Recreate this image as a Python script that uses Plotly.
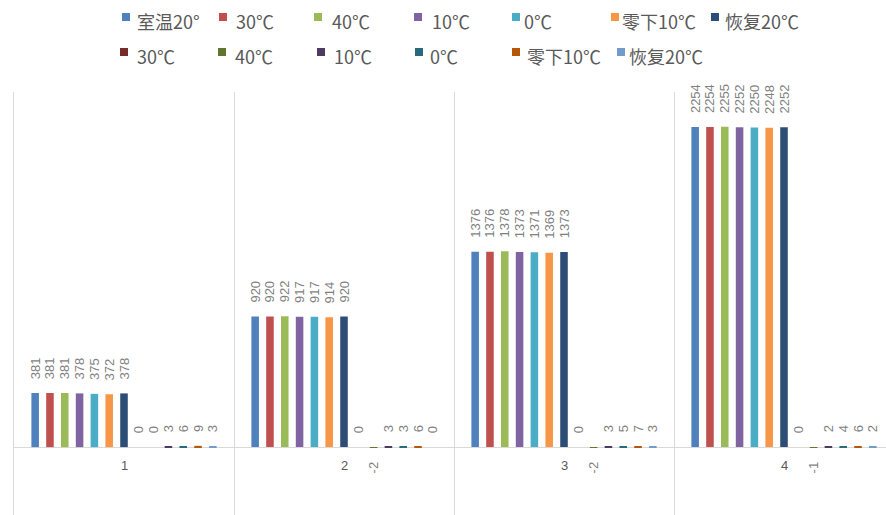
import plotly.graph_objects as go

# Four test samples (categories on the x axis)
categories = [1, 2, 3, 4]
category_labels = ["1", "2", "3", "4"]

# Readings at each temperature condition
names_main = ["室温20°", "30℃", "40℃", "10℃", "0℃", "零下10℃", "恢复20℃"]
room_20 = [381, 920, 1376, 2254]
temp_30 = [381, 920, 1376, 2254]
temp_40 = [381, 922, 1378, 2255]
temp_10 = [378, 917, 1373, 2252]
temp_0 = [375, 917, 1371, 2250]
temp_m10 = [372, 914, 1369, 2248]
recover_20 = [378, 920, 1373, 2252]

# Drop relative to room temperature for each condition
names_diff = ["30℃", "40℃", "10℃", "0℃", "零下10℃", "恢复20℃"]
diff_30 = [0, 0, 0, 0]
diff_40 = [0, -2, -2, -1]
diff_10 = [3, 3, 3, 2]
diff_0 = [6, 3, 5, 4]
diff_m10 = [9, 6, 7, 6]
diff_recover = [3, 0, 3, 2]

colors_main = ["#4F81BD", "#C0504D", "#9BBB59", "#8064A2", "#4BACC6", "#F79646", "#2C4D75"]
colors_diff = ["#772C2A", "#5F7530", "#4D3B62", "#276A7C", "#B65708", "#729ACA"]

series = list(zip(names_main,
                  [room_20, temp_30, temp_40, temp_10, temp_0, temp_m10, recover_20],
                  colors_main))
series += list(zip(names_diff,
                   [diff_30, diff_40, diff_10, diff_0, diff_m10, diff_recover],
                   colors_diff))

PAD = "\u00a0\u00a0\u00a0"
LABEL_GRAY = "#7f7f7f"
TEXT_GRAY = "#595959"
GRID = "#d9d9d9"


def bar_text(values):
    # rotated labels: keep a little space between the bar end and the number
    return [PAD + str(v) if v >= 0 else str(v) + PAD for v in values]


fig = go.Figure()
for name, vals, col in series:
    fig.add_trace(go.Bar(
        x=categories, y=vals, name=name,
        marker=dict(color=col, line=dict(width=0)),
        text=bar_text(vals), textposition="outside", textangle=-90,
        constraintext="none", cliponaxis=False,
        textfont=dict(family="Liberation Sans", size=13, color=LABEL_GRAY),
        showlegend=False,
    ))

# plot area geometry (pixels)
W, H = 886, 515
ML, MT = 14, 92
PW, PH = W - ML, H - MT


def px(x):
    return (x - ML) / PW


def py(y):
    return (H - y) / PH


# category labels sit just under the zero line
annotations = []
for c, lab in zip(categories, category_labels):
    annotations.append(dict(
        x=c, y=0, xref="x", yref="y", text=lab, showarrow=False,
        yanchor="top", xanchor="center", yshift=-9,
        font=dict(family="Liberation Sans", size=13, color=TEXT_GRAY)))

# two-row legend: small square swatch followed by the label
legend_rows = [
    (17, 21, [(126, 135), (223, 234), (318, 330), (418, 430), (516, 522), (615, 620), (715, 723)]),
    (52, 56, [(124, 135), (222, 233), (321, 332), (419, 428), (516, 525), (621, 627)]),
]
shapes = []
idx = 0
for sy, ty, row in legend_rows:
    for mx, tx in row:
        name, _, col = series[idx]
        idx += 1
        shapes.append(dict(type="rect", xref="paper", yref="paper",
                           x0=px(mx - 4), x1=px(mx + 4), y0=py(sy + 4), y1=py(sy - 4),
                           fillcolor=col, line=dict(width=0)))
        annotations.append(dict(
            x=px(tx), y=py(ty), xref="paper", yref="paper", text=name,
            showarrow=False, xanchor="left", yanchor="middle",
            font=dict(family="Noto Sans CJK SC", size=18, color=TEXT_GRAY)))

fig.update_layout(
    width=W, height=H,
    margin=dict(l=ML, r=0, t=MT, b=0),
    paper_bgcolor="white", plot_bgcolor="white",
    barmode="group", bargap=0.125, bargroupgap=0.49,
    showlegend=False,
    annotations=annotations, shapes=shapes,
    xaxis=dict(range=[0.5, 0.5 + PW / 220], tickvals=[0.5, 1.5, 2.5, 3.5],
               showticklabels=False, ticks="", showgrid=True,
               gridcolor=GRID, gridwidth=1, zeroline=False, showline=False),
    yaxis=dict(range=[-478, 2500], showticklabels=False, ticks="", showgrid=False,
               zeroline=True, zerolinecolor=GRID, zerolinewidth=1,
               showline=True, linecolor=GRID, linewidth=1),
)

fig.write_html("out.html")
